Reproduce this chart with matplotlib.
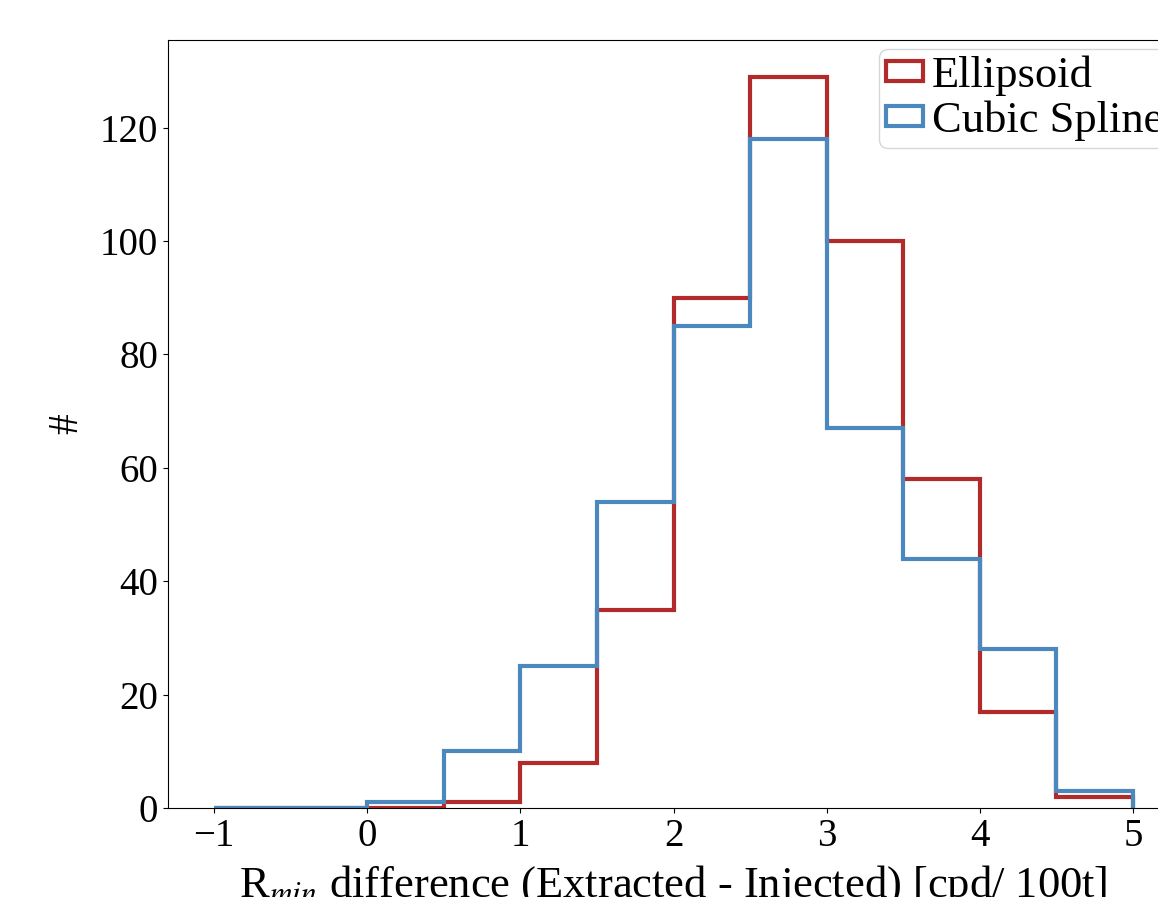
import numpy as np
import matplotlib
matplotlib.use("Agg")
import matplotlib.pyplot as plt

# bin edges and counts
edges = np.arange(-1.0, 5.01, 0.5)
ellipsoid = [0, 0, 0, 1, 8, 35, 90, 129, 100, 58, 17, 2]
spline = [0, 0, 1, 10, 25, 54, 85, 118, 67, 44, 28, 3]

plt.rcParams['font.family'] = ['Liberation Serif', 'DejaVu Serif']
plt.rcParams['mathtext.fontset'] = 'stix'

fig = plt.figure(figsize=(11.58, 8.97), dpi=100)
# the original figure is cropped on the right and bottom
ax = fig.add_axes([168/1158, (897-808)/897, (1179-168)/1158, (808-40)/897])

centers = (edges[:-1] + edges[1:]) / 2
ax.hist(centers, bins=edges, weights=ellipsoid, histtype='step',
        color='#b22a2a', lw=3, label='Ellipsoid')
ax.hist(centers, bins=edges, weights=spline, histtype='step',
        color='#4a88bd', lw=3, label='Cubic Spline')

ax.set_xticks([-1, 0, 1, 2, 3, 4, 5])
ax.set_yticks([0, 20, 40, 60, 80, 100, 120])
ax.tick_params(labelsize=28)
ax.set_xlabel(r'R$_{min}$ difference (Extracted - Injected) [cpd/ 100t]',
              fontsize=32, labelpad=6)
ax.set_ylabel('#', fontsize=30, labelpad=10)

ax.legend(loc='upper right', fontsize=32, handlelength=0.85, handleheight=0.3,
          handletextpad=0.2, borderaxespad=0.2, labelspacing=0.1, borderpad=0.15)

fig.savefig('out.png', dpi=100)
